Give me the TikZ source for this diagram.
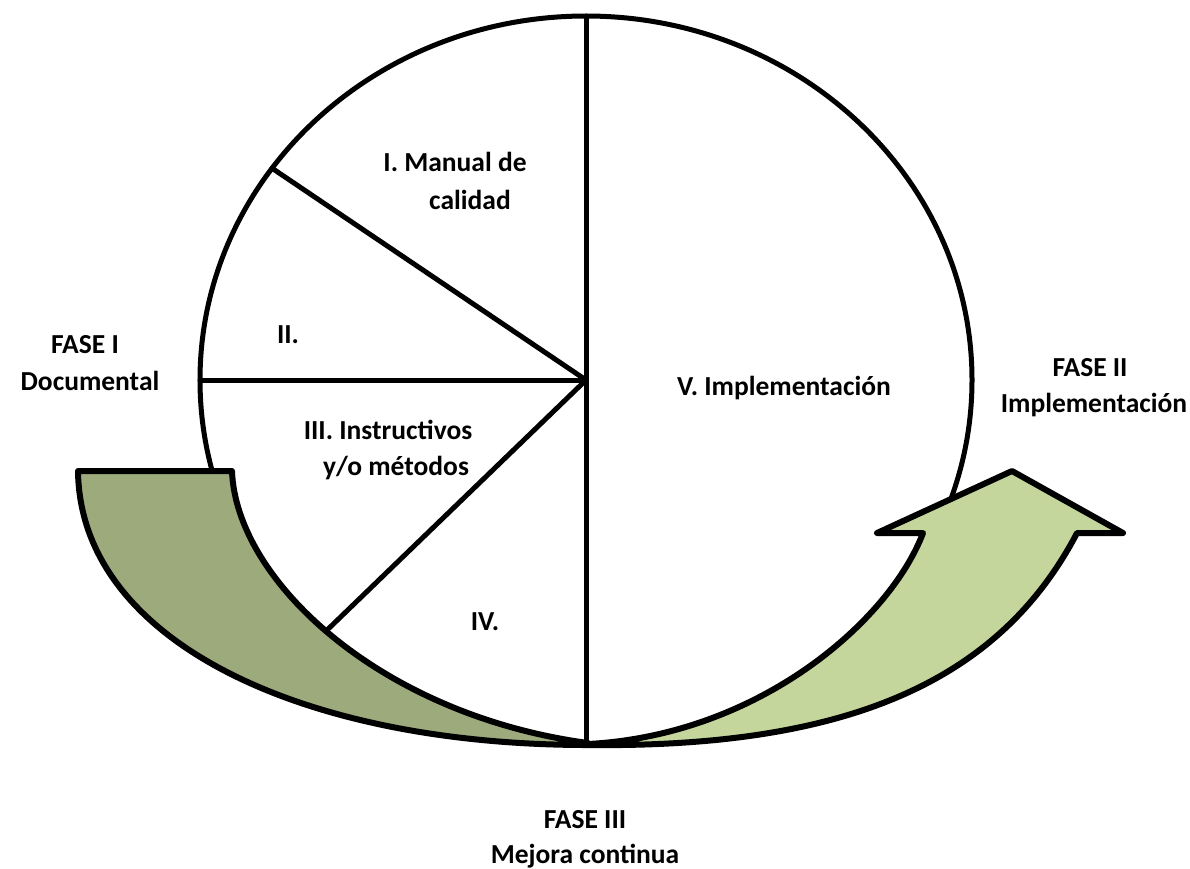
\documentclass[tikz,border=0pt]{standalone}
\usepackage{fontspec}
\setmainfont{Carlito}
\usetikzlibrary{shapes.geometric}
\definecolor{darkolive}{RGB}{157,171,124}
\definecolor{lightolive}{RGB}{196,214,155}
\begin{document}
\begin{tikzpicture}[x=1pt,y=-1pt,
  lbl/.style={font=\bfseries\fontsize{27.5}{35}\selectfont, inner sep=0pt},
  part/.style={line width=5pt, line cap=round},
  arrowshape/.style={line width=6pt, line join=round}]
\useasboundingbox (0,0) rectangle (1190,868);
\node[ellipse, draw, line width=5pt, fill=white, minimum width=772pt, minimum height=728pt, inner sep=0pt, outer sep=0pt] (E) at (586,380) {};
\draw[part] (E.north) -- (E.south);
\draw[part] (E.west) -- (E.center);
\draw[part] (E.146.9) -- (E.center);
\draw[part] (E.224.2) -- (E.center);
% right arrow
\filldraw[arrowshape, fill=lightolive] (588,745) .. controls (850,748) and (1000,680) .. (1077,533) -- (1123,533) -- (1012,471) -- (877,533) -- (923,533) .. controls (890,620) and (760,735) .. (588,744) -- cycle;
% left arrow
\filldraw[arrowshape, fill=darkolive] (78,471) .. controls (80,640) and (300,745) .. (588,745) -- (588,743) .. controls (380,715) and (236,580) .. (232,471) -- cycle;
% labels
\node[lbl] (t1a) at (455,162) {I. Manual de};
\node[lbl] (t1b) at (470,200) {calidad};
\node[lbl] (t2) at (288,335) {II.};
\node[lbl] (t3a) at (388,430) {III. Instructivos};
\node[lbl] (t3b) at (396,468) {y/o métodos};
\node[lbl] (t4) at (485,622) {IV.};
\node[lbl] (t5) at (784,388) {V. Implementación};
\node[lbl] (f1a) at (85,345) {FASE I};
\node[lbl] (f1b) at (90,381) {Documental};
\node[lbl] (f2a) at (1090,368) {FASE II};
\node[lbl] (f2b) at (1094,405) {Implementación};
\node[lbl] (f3a) at (585,820) {FASE III};
\node[lbl] (f3b) at (585,856) {Mejora continua};
\end{tikzpicture}
\end{document}
